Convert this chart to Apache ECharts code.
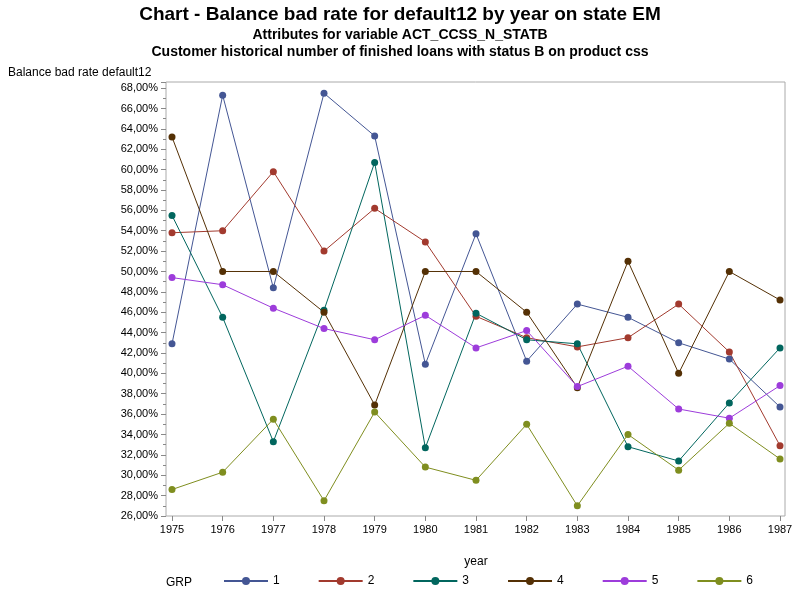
<!DOCTYPE html>
<html>
<head>
<meta charset="utf-8">
<script src="https://cdn.jsdelivr.net/npm/echarts@6/dist/echarts.min.js"></script>
<style>html,body{margin:0;padding:0;background:#fff}#chart{width:800px;height:600px}</style>
</head>
<body>
<div id="chart"></div>
<script>
const years = ['1975','1976','1977','1978','1979','1980','1981','1982','1983','1984','1985','1986','1987'];
const grp1 = [42.9, 67.3, 48.4, 67.5, 63.3, 40.9, 53.7, 41.2, 46.8, 45.5, 43.0, 41.4, 36.7];
const grp2 = [53.8, 54.0, 59.8, 52.0, 56.2, 52.9, 45.6, 43.5, 42.6, 43.5, 46.8, 42.1, 32.9];
const grp3 = [55.5, 45.5, 33.3, 46.2, 60.7, 32.7, 45.9, 43.3, 42.9, 32.8, 31.4, 37.1, 42.5];
const grp4 = [63.2, 50.0, 50.0, 46.0, 36.9, 50.0, 50.0, 46.0, 38.6, 51.0, 40.0, 50.0, 47.2];
const grp5 = [49.4, 48.7, 46.4, 44.4, 43.3, 45.7, 42.5, 44.2, 38.7, 40.7, 36.5, 35.6, 38.8];
const grp6 = [28.6, 30.3, 35.5, 27.5, 36.2, 30.8, 29.5, 35.0, 27.0, 34.0, 30.5, 35.1, 31.6];
const names = ['1', '2', '3', '4', '5', '6'];
const colors = ['#445694', '#A23A2E', '#01665E', '#543005', '#9D3CDB', '#7F8E1F'];

const chart = echarts.init(document.getElementById('chart'));
const all = [grp1, grp2, grp3, grp4, grp5, grp6];
chart.setOption({
    backgroundColor: '#fff',
    textStyle: {fontFamily: 'Arial, Liberation Sans'},
    title: [
        {text: 'Chart - Balance bad rate for default12 by year on state EM', left: 'center', top: 0,
            textStyle: {fontSize: 19, fontWeight: 'bold', color: '#000'}},
        {text: 'Attributes for variable ACT_CCSS_N_STATB', left: 'center', top: 23,
            textStyle: {fontSize: 14, fontWeight: 'bold', color: '#000'}},
        {text: 'Customer historical number of finished loans with status B on product css', left: 'center', top: 40,
            textStyle: {fontSize: 14, fontWeight: 'bold', color: '#000'}}
    ],
    grid: {left: 172, right: 20, top: 82, bottom: 84},
    graphic: [
        {type: 'rect', shape: {x: 166, y: 82, width: 619, height: 434}, style: {fill: 'none', stroke: '#aaa', lineWidth: 1}, silent: true},
        {type: 'text', left: 8, top: 67, style: {text: 'Balance bad rate default12', fontSize: 12, fill: '#000', font: '12px Arial'}},
        {type: 'text', left: 166, top: 577, style: {text: 'GRP', fill: '#000', font: '12px Arial'}}
    ],
    legend: {
        bottom: 8, left: 218, itemGap: 38, itemWidth: 44, itemHeight: 10,
        textStyle: {color: '#000', fontSize: 12},
        data: names
    },
    xAxis: {
        type: 'category', data: years, boundaryGap: false,
        name: 'year', nameLocation: 'middle', nameGap: 40,
        nameTextStyle: {color: '#000', fontSize: 12},
        axisLine: {show: false},
        axisTick: {alignWithLabel: true, lineStyle: {color: '#888'}, length: 5},
        axisLabel: {color: '#000', fontSize: 11, margin: 8}
    },
    yAxis: {
        type: 'value', min: 26, max: 68.6, interval: 2, offset: 6,
        axisLine: {show: false},
        axisTick: {show: true, length: 5, lineStyle: {color: '#888'}},
        minorTick: {show: true, splitNumber: 2, length: 3, lineStyle: {color: '#888'}},
        splitLine: {show: false},
        axisLabel: {color: '#000', fontSize: 11, showMaxLabel: false,
            formatter: v => v.toFixed(2).replace('.', ',') + '%'}
    },
    series: all.map((d, i) => ({
        name: names[i], type: 'line', data: d,
        symbol: 'circle', symbolSize: 7,
        itemStyle: {color: colors[i]},
        lineStyle: {width: 1, color: colors[i]}
    }))
});
</script>
</body>
</html>
